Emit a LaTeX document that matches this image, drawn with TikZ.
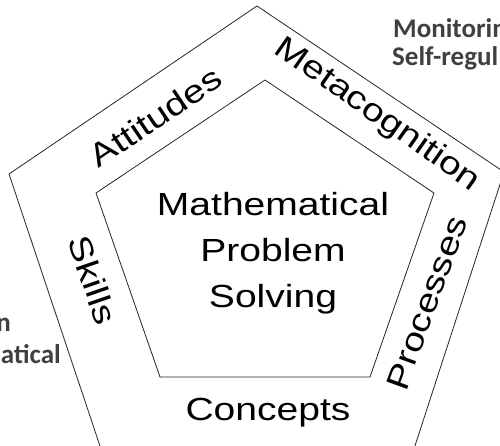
\documentclass[tikz,border=0pt]{standalone}
\usepackage{fontspec}
\usepackage{graphicx}
\setmainfont{Liberation Sans}
\newfontfamily\notefont{Carlito}
\definecolor{notegray}{HTML}{404040}
\tikzset{
  edge/.style={draw=black!85, line width=0.8pt, line join=miter},
  band/.style={font=\fontsize{32}{46}\selectfont, inner sep=0pt, text=black},
  note/.style={font=\notefont\bfseries\fontsize{27}{30}\selectfont, text=notegray, inner sep=0pt},
}
\newcommand{\wide}[1]{\scalebox{1.22}[1]{#1}}
\begin{document}
\begin{tikzpicture}[x=1pt,y=1pt]
\useasboundingbox (0,0) rectangle (500,446);
\clip (0,0) rectangle (500,446);
\fill[white] (0,0) rectangle (500,446);
% outer pentagon
\coordinate (oT) at (257,440);
\coordinate (oL) at (9,272);
\coordinate (oR) at (504,274);
\coordinate (oBL) at (103,-9);
\coordinate (oBR) at (412,-9);
\draw[edge] (oT) -- (oR) -- (oBR) -- (oBL) -- (oL) -- cycle;
% inner pentagon
\coordinate (iT) at (265,366);
\coordinate (iL) at (96,253);
\coordinate (iR) at (434,253);
\coordinate (iBL) at (160,69);
\coordinate (iBR) at (370,69);
\draw[edge] (iT) -- (iR) -- (iBR) -- (iBL) -- (iL) -- cycle;
% centre text
\node[band, align=center] (mps) at (273,193) {\wide{Mathematical}\\\wide{Problem}\\\wide{Solving}};
% band labels
\node[band, anchor=base] (concepts) at (268,25) {\wide{Concepts}};
\node[band, rotate=34] (attitudes) at (155,329) {\wide{Attitudes}};
\node[band, rotate=-35] (meta) at (377,331) {\wide{Metacognition}};
\node[band, rotate=-71] (skills) at (93,166) {\wide{Skills}};
\node[band, rotate=70] (processes) at (427,143) {\wide{Processes}};
% clipped side notes
\node[note, anchor=base west] (mon) at (393,408) {Monitorin};
\node[note, anchor=base west] (selfreg) at (392,380) {Self-regul};
\node[note, anchor=base east] (ln) at (11,114) {n};
\node[note, anchor=base east] (latical) at (61,82) {atical};
\end{tikzpicture}
\end{document}
